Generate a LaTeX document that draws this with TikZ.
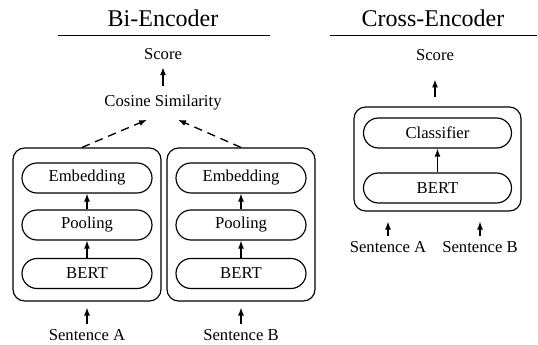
\documentclass[tikz,border=0pt]{standalone}
\usepackage{fontspec}
\setmainfont{Liberation Serif}
\usetikzlibrary{arrows.meta}
\begin{document}
\begin{tikzpicture}[
        x=0.6pt, y=-0.6pt, % one unit is one pixel of the layout
        >={Latex[length=4.8pt,width=3.6pt]},
        outerbox/.style={draw, line width=0.7pt, rounded corners=7pt, inner sep=0pt},
        layer/.style={draw, line width=0.7pt, rounded corners=9pt, minimum width=78pt, minimum height=18pt, inner sep=0pt},
        flow/.style={->, line width=0.8pt},
        title/.style={font=\Large}
    ]
    \useasboundingbox (0,0) rectangle (538,345);

    % Bi-Encoder
    \node[title] (bititle) at (163,18) {Bi-Encoder};
    \draw[line width=0.6pt] (58,35) -- (270,35);
    \node (biscore) at (163,54) {Score};
    \node (cosine) at (163,103) {Cosine Similarity};

    \node[outerbox, minimum width=88.8pt, minimum height=91.8pt] (leftbox) at (87,224.5) {};
    \node[layer] (lembed) at (87,178) {Embedding};
    \node[layer] (lpool) at (87,225) {Pooling};
    \node[layer] (lbert) at (87,273.5) {BERT};
    \node (lsent) at (87,335) {Sentence A};

    \node[outerbox, minimum width=88.8pt, minimum height=91.8pt] (rightbox) at (241,224.5) {};
    \node[layer] (rembed) at (241,178) {Embedding};
    \node[layer] (rpool) at (241,225) {Pooling};
    \node[layer] (rbert) at (241,273.5) {BERT};
    \node (rsent) at (241,335) {Sentence B};

    \draw[flow] (lbert) -- (lpool);
    \draw[flow] (lpool) -- (lembed);
    \draw[flow] (rbert) -- (rpool);
    \draw[flow] (rpool) -- (rembed);
    \draw[flow] (lsent.north) -- ++(0,-16);
    \draw[flow] (rsent.north) -- ++(0,-16);
    \draw[flow, dash pattern=on 5pt off 3.5pt] ([xshift=-3pt]leftbox.north) -- ([xshift=-9.6pt,yshift=-2pt]cosine.south);
    \draw[flow, dash pattern=on 5pt off 3.5pt] (rightbox.north) -- ([xshift=9pt,yshift=-2pt]cosine.south);
    \draw[flow, shorten <=2pt, shorten >=1pt] (cosine.north) -- (biscore.south);

    % Cross-Encoder
    \node[title] (crosstitle) at (433,18) {Cross-Encoder};
    \draw[line width=0.6pt] (330,35) -- (537,35);
    \node (crossscore) at (435,55) {Score};

    \node[outerbox, minimum width=100.2pt, minimum height=62.4pt] (crossbox) at (437.5,159) {};
    \node[layer, minimum width=88.8pt] (classifier) at (437.5,133) {Classifier};
    \node[layer, minimum width=88.8pt] (cbert) at (437.5,188) {BERT};
    \node (csenta) at (388,247) {Sentence A};
    \node (csentb) at (480,247) {Sentence B};

    \draw[flow] (cbert) -- (classifier);
    \draw[flow] ([xshift=-1.5pt,yshift=5.4pt]crossbox.north) -- ++(0,-18);
    \draw[flow] (csenta.north) -- ++(0,-14);
    \draw[flow] (csentb.north) -- ++(0,-14);
\end{tikzpicture}
\end{document}
